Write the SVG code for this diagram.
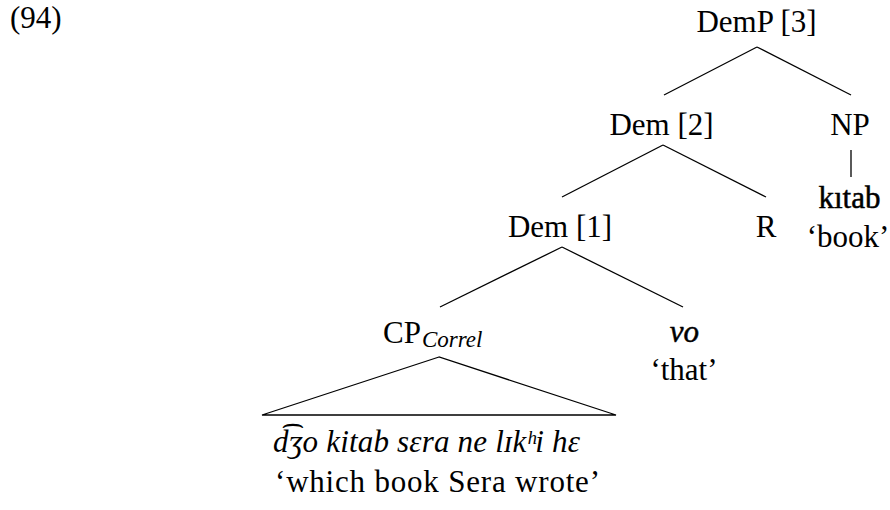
<svg xmlns="http://www.w3.org/2000/svg" width="890" height="510" viewBox="0 0 890 510">
  <style>
    text { font-family: "Liberation Serif", "DejaVu Serif", serif; font-size: 31px; fill: #000; }
    .c { text-anchor: middle; }
    .it { font-style: italic; }
    .sub { font-style: italic; font-size: 23px; }
    .heavy { stroke: #000; stroke-width: 0.5px; }
    .edge { stroke: #000; stroke-width: 1.3; fill: none; }
  </style>
  <rect width="890" height="510" fill="#fff"/>
  <g id="example-number"><text x="10" y="28">(94)</text></g>
  <g id="connectors">
    <line class="edge" x1="757" y1="47" x2="664" y2="95"/>
    <line class="edge" x1="757" y1="47" x2="851" y2="95"/>
    <line class="edge" x1="663" y1="145" x2="562" y2="197"/>
    <line class="edge" x1="663" y1="145" x2="766" y2="197"/>
    <line class="edge" x1="851" y1="150" x2="851" y2="177"/>
    <line class="edge" x1="562" y1="247" x2="440" y2="307"/>
    <line class="edge" x1="562" y1="247" x2="683" y2="307"/>
    <polygon class="edge" points="439,357 262,415 616,415"/>
  </g>
  <g id="node-DemP3"><text class="c" x="756.5" y="32">DemP [3]</text></g>
  <g id="node-Dem2"><text class="c" x="661.5" y="135">Dem [2]</text></g>
  <g id="node-NP"><text class="c" x="850" y="135">NP</text></g>
  <g id="node-kitab">
    <text class="c heavy" x="849.5" y="208">kıtab</text>
    <text class="c" x="848" y="247">‘book’</text>
  </g>
  <g id="node-Dem1"><text class="c" x="560" y="237">Dem [1]</text></g>
  <g id="node-R"><text class="c" x="766" y="237">R</text></g>
  <g id="node-CPCorrel">
    <text x="383" y="343">CP<tspan class="sub" dy="4" dx="1">Correl</tspan></text>
  </g>
  <g id="node-vo">
    <text class="c it heavy" x="684.5" y="342">vo</text>
    <text class="c" x="684" y="380">‘that’</text>
  </g>
  <g id="node-roof-text">
    <text class="it" x="273" y="452" textLength="307">d͡ʒo kitab sɛra ne lɪkʰi hɛ</text>
    <text x="275" y="492" textLength="325">‘which book Sera wrote’</text>
  </g>
</svg>
